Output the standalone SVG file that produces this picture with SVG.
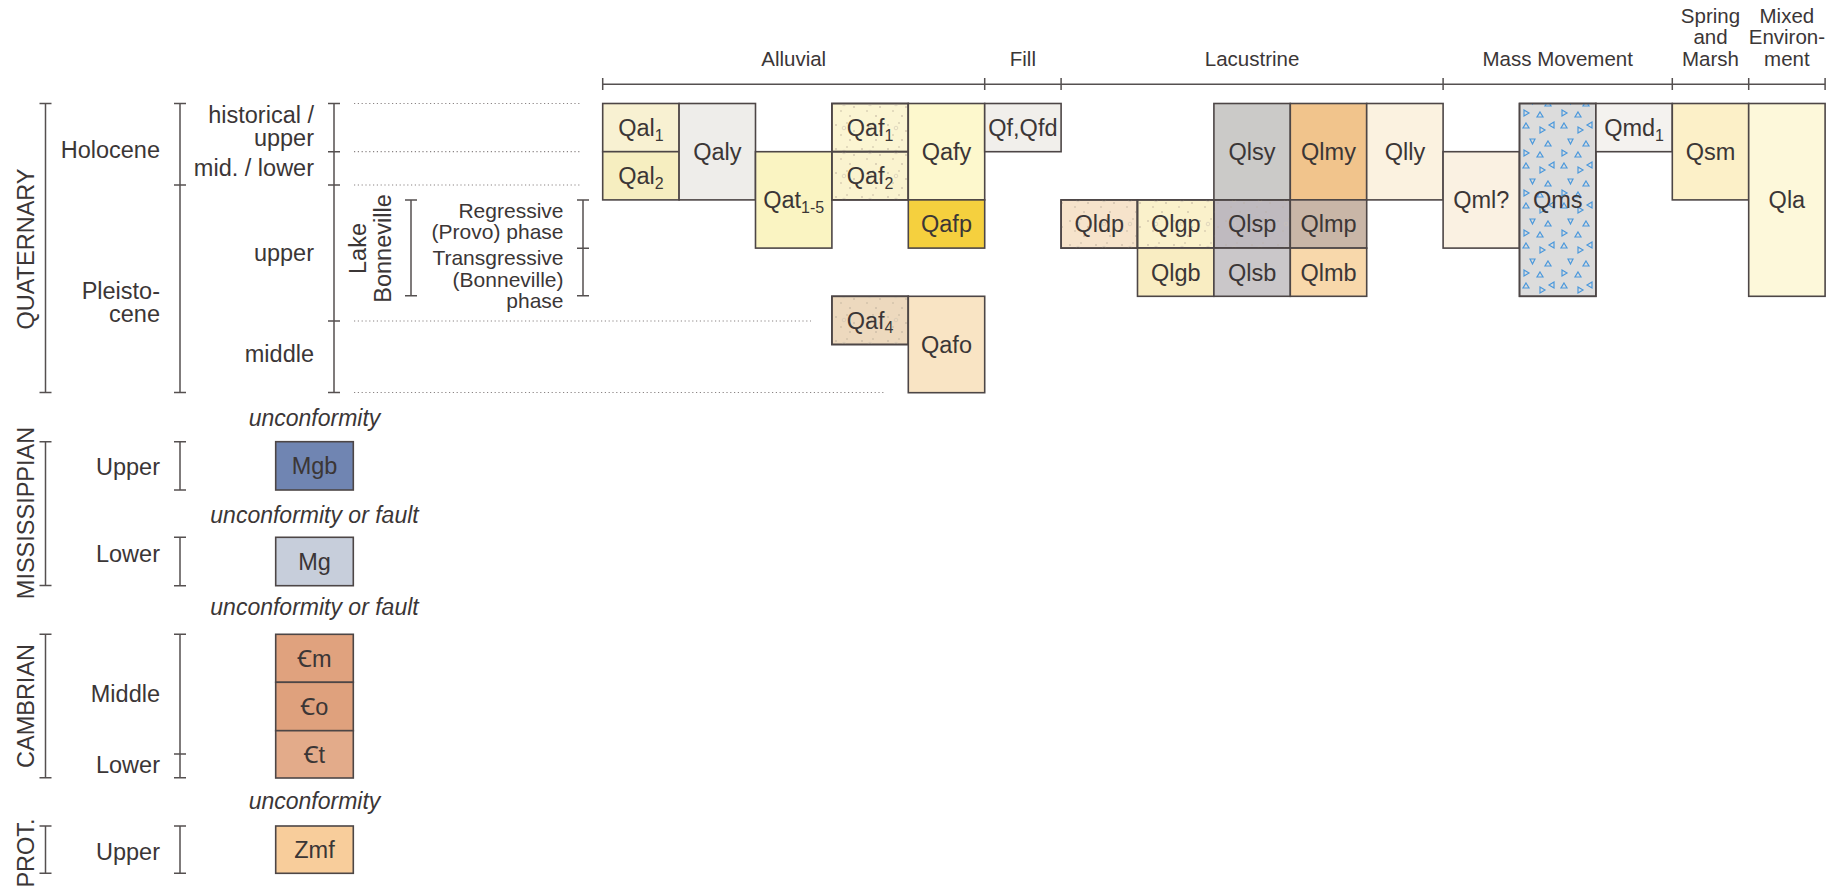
<svg xmlns="http://www.w3.org/2000/svg" width="1845" height="889" viewBox="0 0 1845 889">
<style>
text{font-family:"Liberation Sans","Noto Sans","DejaVu Sans",Arial,sans-serif;fill:#3b3636}
.lbl{font-size:23.5px;text-anchor:middle}
.sub{font-size:16px}
.cat{font-size:20.5px;text-anchor:middle}
.left{font-size:23.5px;text-anchor:end}
.ph{font-size:21px;text-anchor:end}
.rot{font-size:23.5px;text-anchor:middle}
.it{font-size:23px;font-style:italic;text-anchor:middle}
.box{stroke:#4d4646;stroke-width:1.6}
.br{stroke:#555050;stroke-width:1.5;fill:none}
.dot{stroke:#8a8484;stroke-width:1.2;stroke-dasharray:1.2 2.6;fill:none}
</style>
<defs>
<pattern id="dots" width="26" height="24" patternUnits="userSpaceOnUse">
<circle cx="4" cy="5" r="0.8" fill="#b8ab98"/>
<circle cx="15" cy="3" r="0.7" fill="#b8ab98"/>
<circle cx="22" cy="11" r="0.8" fill="#b8ab98"/>
<circle cx="9" cy="15" r="0.7" fill="#b8ab98"/>
<circle cx="18" cy="20" r="0.8" fill="#b8ab98"/>
<circle cx="12" cy="8" r="1.8" fill="none" stroke="#cfc4b2" stroke-width="0.6"/>
</pattern>
<pattern id="tri" width="38" height="40" patternUnits="userSpaceOnUse">
<g fill="none" stroke="#4a98dc" stroke-width="1.2">
<polygon points="6,3 9,8 3,8"/>
<polygon points="20,7 25,10 20,13"/>
<polygon points="34,2 29,5 34,8"/>
<polygon points="10,19 15,19 12.5,24"/>
<polygon points="28,21 31,26 25,26"/>
<polygon points="4,30 9,33 4,36"/>
<polygon points="20,32 23,37 17,37"/>
</g>
</pattern>
</defs>
<rect width="1845" height="889" fill="#ffffff"/>

<g id="category-bar">
<line class="br" x1="602.7" y1="84.3" x2="1825.1" y2="84.3"/>
<path class="br" d="M602.7,78V90M984.7,78V90M1061.1,78V90M1443.1,78V90M1672.3,78V90M1748.7,78V90M1825.1,78V90"/>
<text class="cat" x="793.7" y="65.5">Alluvial</text>
<text class="cat" x="1022.9" y="65.5">Fill</text>
<text class="cat" x="1252.1" y="65.5">Lacustrine</text>
<text class="cat" x="1557.7" y="65.5">Mass Movement</text>
<text class="cat" x="1710.5" y="22.5">Spring</text>
<text class="cat" x="1710.5" y="43.5">and</text>
<text class="cat" x="1710.5" y="65.5">Marsh</text>
<text class="cat" x="1786.9" y="22.5">Mixed</text>
<text class="cat" x="1786.9" y="43.5">Environ-</text>
<text class="cat" x="1786.9" y="65.5">ment</text>
</g>

<g id="time-scale">
<path class="br" d="M45.5,103.5V392.5M39.5,103.5H51.5M39.5,392.5H51.5"/>
<text class="rot" transform="translate(34,249) rotate(-90)">QUATERNARY</text>
<path class="br" d="M180,103.5V392.5M174,103.5H186M174,185H186M174,392.5H186"/>
<text class="left" x="160" y="158.3">Holocene</text>
<text class="left" x="160" y="299.3">Pleisto-</text>
<text class="left" x="160" y="321.7">cene</text>
<path class="br" d="M334,103.5V392.5M328,103.5H340M328,151.7H340M328,185H340M328,321H340M328,392.5H340"/>
<text class="left" x="314" y="122.5">historical /</text>
<text class="left" x="314" y="146">upper</text>
<text class="left" x="314" y="175.5">mid. / lower</text>
<text class="left" x="314" y="261">upper</text>
<text class="left" x="314" y="361.5">middle</text>
<text class="rot" transform="translate(365.5,248.5) rotate(-90)">Lake</text>
<text class="rot" transform="translate(391,248.5) rotate(-90)">Bonneville</text>
<path class="br" d="M411,200V295.7M405,200H417M405,295.7H417"/>
<text class="ph" x="563.5" y="218.3">Regressive</text>
<text class="ph" x="563.5" y="238.5">(Provo) phase</text>
<text class="ph" x="563.5" y="265">Transgressive</text>
<text class="ph" x="563.5" y="286.7">(Bonneville)</text>
<text class="ph" x="563.5" y="307.5">phase</text>
<path class="br" d="M583,200V295.7M577,200H589M577,248.3H589M577,295.7H589"/>
<path class="dot" d="M354,103.5H581M354,151.7H581M354,185H581M354,321H811M354,392.5H886"/>

<path class="br" d="M45.5,441.7V585.5M39.5,441.7H51.5M39.5,585.5H51.5"/>
<text class="rot" transform="translate(34,513) rotate(-90)">MISSISSIPPIAN</text>
<path class="br" d="M180,441.7V490M174,441.7H186M174,490H186"/>
<text class="left" x="160" y="474.5">Upper</text>
<path class="br" d="M180,537.3V585.7M174,537.3H186M174,585.7H186"/>
<text class="left" x="160" y="562">Lower</text>

<path class="br" d="M45.5,634.3V777.7M39.5,634.3H51.5M39.5,777.7H51.5"/>
<text class="rot" transform="translate(34,706) rotate(-90)">CAMBRIAN</text>
<path class="br" d="M180,634.3V777.7M174,634.3H186M174,754H186M174,777.7H186"/>
<text class="left" x="160" y="701.5">Middle</text>
<text class="left" x="160" y="773.3">Lower</text>

<path class="br" d="M45.5,826V873.3M39.5,826H51.5M39.5,873.3H51.5"/>
<text class="rot" transform="translate(34,853) rotate(-90)">PROT.</text>
<path class="br" d="M180,826V873.3M174,826H186M174,873.3H186"/>
<text class="left" x="160" y="860">Upper</text>

<text class="it" x="314.5" y="426">unconformity</text>
<text class="it" x="314.5" y="523.3">unconformity or fault</text>
<text class="it" x="314.5" y="615">unconformity or fault</text>
<text class="it" x="314.5" y="809.3">unconformity</text>
</g>

<g id="Qal1"><rect class="box" x="602.7" y="103.5" width="76.4" height="48.2" fill="#f8f1d2"/><text class="lbl" x="640.9" y="136">Qal<tspan class="sub" dy="4.5">1</tspan></text></g>
<g id="Qal2"><rect class="box" x="602.7" y="151.7" width="76.4" height="48.2" fill="#f6eec0"/><text class="lbl" x="640.9" y="184.2">Qal<tspan class="sub" dy="4.5">2</tspan></text></g>
<g id="Qaly"><rect class="box" x="679.1" y="103.5" width="76.4" height="96.4" fill="#eeedea"/><text class="lbl" x="717.3" y="160.1">Qaly</text></g>
<g id="Qat1-5"><rect class="box" x="755.5" y="151.7" width="76.4" height="96.4" fill="#faf4c2"/><text class="lbl" x="793.7" y="208.3">Qat<tspan class="sub" dy="4.5">1-5</tspan></text></g>
<g id="Qaf1"><rect class="box" x="831.9" y="103.5" width="76.4" height="48.2" fill="#fbf5d2"/><rect x="831.9" y="103.5" width="76.4" height="48.2" fill="url(#dots)"/><rect class="box" x="831.9" y="103.5" width="76.4" height="48.2" fill="none"/><text class="lbl" x="870.1" y="136">Qaf<tspan class="sub" dy="4.5">1</tspan></text></g>
<g id="Qaf2"><rect class="box" x="831.9" y="151.7" width="76.4" height="48.2" fill="#faf3cf"/><rect x="831.9" y="151.7" width="76.4" height="48.2" fill="url(#dots)"/><rect class="box" x="831.9" y="151.7" width="76.4" height="48.2" fill="none"/><text class="lbl" x="870.1" y="184.2">Qaf<tspan class="sub" dy="4.5">2</tspan></text></g>
<g id="Qafy"><rect class="box" x="908.3" y="103.5" width="76.4" height="96.4" fill="#fdf8cd"/><text class="lbl" x="946.5" y="160.1">Qafy</text></g>
<g id="Qafp"><rect class="box" x="908.3" y="199.9" width="76.4" height="48.2" fill="#f5d03e"/><text class="lbl" x="946.5" y="232.4">Qafp</text></g>
<g id="Qf-Qfd"><rect class="box" x="984.7" y="103.5" width="76.4" height="48.2" fill="#f1efeb"/><text class="lbl" x="1022.9" y="136">Qf,Qfd</text></g>
<g id="Qaf4"><rect class="box" x="831.9" y="296.3" width="76.4" height="48.2" fill="#edd9be"/><rect x="831.9" y="296.3" width="76.4" height="48.2" fill="url(#dots)"/><rect class="box" x="831.9" y="296.3" width="76.4" height="48.2" fill="none"/><text class="lbl" x="870.1" y="328.8">Qaf<tspan class="sub" dy="4.5">4</tspan></text></g>
<g id="Qafo"><rect class="box" x="908.3" y="296.3" width="76.4" height="96.4" fill="#f9e4c4"/><text class="lbl" x="946.5" y="352.9">Qafo</text></g>

<g id="Qldp"><rect class="box" x="1061.1" y="199.9" width="76.4" height="48.2" fill="#f6e3cb"/><rect x="1061.1" y="199.9" width="76.4" height="48.2" fill="url(#dots)"/><rect class="box" x="1061.1" y="199.9" width="76.4" height="48.2" fill="none"/><text class="lbl" x="1099.3" y="232.4">Qldp</text></g>
<g id="Qlgp"><rect class="box" x="1137.5" y="199.9" width="76.4" height="48.2" fill="#faf1cb"/><rect x="1137.5" y="199.9" width="76.4" height="48.2" fill="url(#dots)"/><rect class="box" x="1137.5" y="199.9" width="76.4" height="48.2" fill="none"/><text class="lbl" x="1175.7" y="232.4">Qlgp</text></g>
<g id="Qlgb"><rect class="box" x="1137.5" y="248.1" width="76.4" height="48.2" fill="#f9edc2"/><text class="lbl" x="1175.7" y="280.6">Qlgb</text></g>
<g id="Qlsy"><rect class="box" x="1213.9" y="103.5" width="76.4" height="96.4" fill="#cbcac8"/><text class="lbl" x="1252.1" y="160.1">Qlsy</text></g>
<g id="Qlsp"><rect class="box" x="1213.9" y="199.9" width="76.4" height="48.2" fill="#bfbabf"/><rect x="1213.9" y="199.9" width="76.4" height="48.2" fill="url(#dots)" opacity="0.6"/><rect class="box" x="1213.9" y="199.9" width="76.4" height="48.2" fill="none"/><text class="lbl" x="1252.1" y="232.4">Qlsp</text></g>
<g id="Qlsb"><rect class="box" x="1213.9" y="248.1" width="76.4" height="48.2" fill="#cac7c9"/><text class="lbl" x="1252.1" y="280.6">Qlsb</text></g>
<g id="Qlmy"><rect class="box" x="1290.3" y="103.5" width="76.4" height="96.4" fill="#f1c48c"/><text class="lbl" x="1328.5" y="160.1">Qlmy</text></g>
<g id="Qlmp"><rect class="box" x="1290.3" y="199.9" width="76.4" height="48.2" fill="#c9b6a7"/><text class="lbl" x="1328.5" y="232.4">Qlmp</text></g>
<g id="Qlmb"><rect class="box" x="1290.3" y="248.1" width="76.4" height="48.2" fill="#f8d8ab"/><text class="lbl" x="1328.5" y="280.6">Qlmb</text></g>
<g id="Qlly"><rect class="box" x="1366.7" y="103.5" width="76.4" height="96.4" fill="#fbf2e0"/><text class="lbl" x="1404.9" y="160.1">Qlly</text></g>

<g id="Qml"><rect class="box" x="1443.1" y="151.7" width="76.4" height="96.4" fill="#faf1e2"/><text class="lbl" x="1481.3" y="208.3">Qml?</text></g>
<g id="Qms"><rect class="box" x="1519.5" y="103.5" width="76.4" height="192.8" fill="#dcdcdc"/><rect x="1519.5" y="103.5" width="76.4" height="192.8" fill="url(#tri)"/><rect class="box" x="1519.5" y="103.5" width="76.4" height="192.8" fill="none"/><text class="lbl" x="1557.7" y="208.3">Qms</text></g>
<g id="Qmd1"><rect class="box" x="1595.9" y="103.5" width="76.4" height="48.2" fill="#f4f2ef"/><text class="lbl" x="1634.1" y="136">Qmd<tspan class="sub" dy="4.5">1</tspan></text></g>
<g id="Qsm"><rect class="box" x="1672.3" y="103.5" width="76.4" height="96.4" fill="#fcf0c8"/><text class="lbl" x="1710.5" y="160.1">Qsm</text></g>
<g id="Qla"><rect class="box" x="1748.7" y="103.5" width="76.4" height="192.8" fill="#fdf8da"/><text class="lbl" x="1786.9" y="208.3">Qla</text></g>

<g id="Mgb"><rect class="box" x="275.7" y="441.7" width="77.6" height="48.3" fill="#7085b2"/><text class="lbl" x="314.5" y="474.3">Mgb</text></g>
<g id="Mg"><rect class="box" x="275.7" y="537.3" width="77.6" height="48.4" fill="#c7cedb"/><text class="lbl" x="314.5" y="569.9">Mg</text></g>
<g id="Cm"><rect class="box" x="275.7" y="634.3" width="77.6" height="48" fill="#e0a27e"/><text class="lbl" x="314.5" y="666.7">Ꞓm</text></g>
<g id="Co"><rect class="box" x="275.7" y="682.3" width="77.6" height="48.4" fill="#dfa17d"/><text class="lbl" x="314.5" y="714.9">Ꞓo</text></g>
<g id="Ct"><rect class="box" x="275.7" y="730.7" width="77.6" height="47.3" fill="#e3ab8a"/><text class="lbl" x="314.5" y="762.8">Ꞓt</text></g>
<g id="Zmf"><rect class="box" x="275.7" y="826" width="77.6" height="47.3" fill="#f8cd9b"/><text class="lbl" x="314.5" y="858.1">Zmf</text></g>
</svg>
